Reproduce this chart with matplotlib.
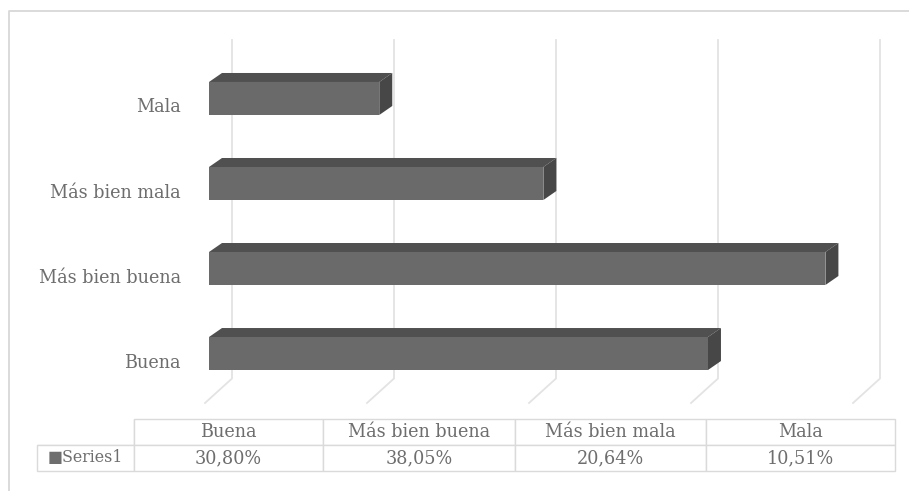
import matplotlib
matplotlib.use("Agg")
import matplotlib.pyplot as plt
from matplotlib.lines import Line2D
from matplotlib.patches import Polygon

plt.rcParams['font.family'] = ['DejaVu Serif', 'DejaVu Sans']

categories = ["Buena", "Más bien buena", "Más bien mala", "Mala"]
values = [30.80, 38.05, 20.64, 10.51]
value_labels = ["30,80%", "38,05%", "20,64%", "10,51%"]
series_name = "Series1"
grid_values = [0, 10, 20, 30, 40]

W, H = 909, 491
text_col = "#6e6e6e"
grid_col = "#e3e3e3"
front_col = "#6a6a6a"
top_col = "#505050"
side_col = "#474747"
font_size = 12.7

fig = plt.figure(figsize=(W / 100, H / 100), dpi=100, facecolor="white")

# outer frame of the chart, only left and top are visible
pts = [(9, 491), (9, 11), (909, 11)]
xs = [p[0] / W for p in pts]
ys = [1 - p[1] / H for p in pts]
fig.add_artist(Line2D(xs, ys, color="#d8d8d8", lw=1.3, transform=fig.transFigure))

# plot area, x axis is in percent, 16.2 px for each 1%
px_per_x = 16.2
px_per_y = 85.0
ax = fig.add_axes([209 / W, 1 - 403 / H, 685 / W, 363 / H])
ax.set_xlim(0, 685 / px_per_x)
ax.set_ylim(-0.582, 3.688)
ax.axis("off")

back_dx = 23 / px_per_x
floor_dx = 27 / px_per_x
floor_y = -0.294
for g in grid_values:
    ax.plot([g + back_dx, g + back_dx, g + back_dx - floor_dx],
            [3.688, floor_y, -0.582],
            color=grid_col, lw=1.3, clip_on=False, zorder=1)

# 3d look of the bars: front from barh, top and side as polygons
bar_h = 33 / px_per_y
dx = 13 / px_per_x
dy = 9 / px_per_y
for i, v in enumerate(values):
    lo = i - bar_h / 2
    hi = i + bar_h / 2
    ax.add_patch(Polygon([(0, hi), (dx, hi + dy), (v + dx, hi + dy), (v, hi)],
                         fc=top_col, ec="none", zorder=3))
    ax.add_patch(Polygon([(v, lo), (v + dx, lo + dy), (v + dx, hi + dy), (v, hi)],
                         fc=side_col, ec="none", zorder=3))
ax.barh(range(len(values)), values, height=bar_h, color=front_col, zorder=4)

# category labels sit a little under the bar centres
for i, c in enumerate(categories):
    ax.text(-28 / px_per_x, i - 9 / px_per_y, c, ha="right", va="center",
            fontsize=font_size, color=text_col)

# data table under the chart
tab_ax = fig.add_axes([37 / W, 1 - 471 / H, 858 / W, 52 / H])
tab_ax.axis("off")
cells = [[""] + categories, ["■" + series_name] + value_labels]
col_w = [97 / 858, 189 / 858, 192 / 858, 191 / 858, 189 / 858]
tab = tab_ax.table(cellText=cells, colWidths=col_w, bbox=[0, 0, 1, 1], cellLoc="center")
tab.auto_set_font_size(False)
for (r, c), cell in tab.get_celld().items():
    cell.set_edgecolor("#dadada")
    cell.set_linewidth(1.0)
    cell.set_text_props(color=text_col, fontsize=11.4 if (r, c) == (1, 0) else font_size)
    if r == 0 and c == 0:
        cell.visible_edges = "BR"

fig.savefig("out.png", dpi=100, facecolor="white")
